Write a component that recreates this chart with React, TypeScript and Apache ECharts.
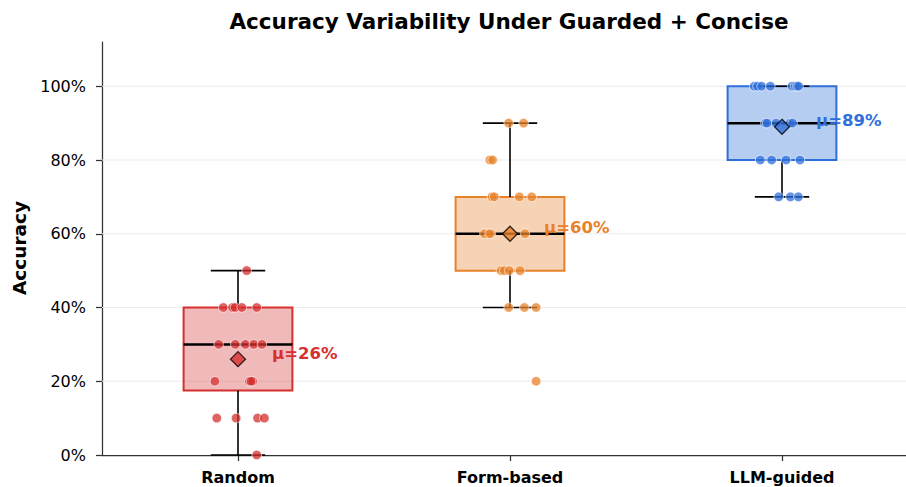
import { useEffect, useRef } from "react";
import * as echarts from "echarts";

const CATEGORIES = ["Random", "Form-based", "LLM-guided"];
const TITLE = "Accuracy Variability Under Guarded + Concise";
const Y_LABEL = "Accuracy";
const Y_TICKS = [0, 20, 40, 60, 80, 100];

const RANDOM_VALUES = [50, 40, 40, 40, 40, 40, 30, 30, 30, 30, 30, 20, 20, 20, 20, 10, 10, 10, 10, 0];
const RANDOM_JITTER = [0.032, -0.054, -0.02, -0.011, 0.014, 0.069, -0.071, -0.01, 0.027, 0.058, 0.088, -0.085, 0.042, 0.054, 0.048, -0.078, -0.007, 0.072, 0.097, 0.069];

const FORM_VALUES = [90, 90, 80, 80, 70, 70, 70, 70, 60, 60, 60, 60, 50, 50, 50, 50, 40, 40, 40, 20];
const FORM_JITTER = [-0.005, 0.05, -0.074, -0.064, -0.066, -0.058, 0.034, 0.08, -0.094, -0.07, -0.075, 0.055, -0.033, -0.021, -0.003, 0.037, -0.005, 0.053, 0.096, 0.096];

const LLM_VALUES = [100, 100, 100, 100, 100, 100, 100, 100, 90, 90, 90, 90, 90, 80, 80, 80, 80, 70, 70, 70];
const LLM_JITTER = [-0.102, -0.09, -0.075, -0.043, 0.037, 0.048, 0.055, 0.061, -0.061, -0.055, -0.022, 0.03, 0.039, -0.08, -0.038, 0.015, 0.066, -0.012, 0.031, 0.06];

const BOX_LOW = [0, 40, 70];
const BOX_Q1 = [17.5, 50, 80];
const BOX_MEDIAN = [30, 60, 90];
const BOX_Q3 = [40, 70, 100];
const BOX_HIGH = [50, 90, 100];

const GROUP_VALUES = [RANDOM_VALUES, FORM_VALUES, LLM_VALUES];
const GROUP_JITTER = [RANDOM_JITTER, FORM_JITTER, LLM_JITTER];

const COLORS = ["#D62F2F", "#E8822A", "#2F6FDB"];
const FILLS = ["rgba(214,47,47,0.33)", "rgba(232,130,42,0.35)", "rgba(47,111,219,0.35)"];
const FONT = "DejaVu Sans";

const BOX_WIDTH = 0.4;
const CAP_WIDTH = 0.2;

export default function App() {
  const ref = useRef<HTMLDivElement>(null);

  useEffect(() => {
    if (!ref.current) return;
    const chart = echarts.init(ref.current, null, { renderer: "svg" });

    const means = GROUP_VALUES.map((vals) => vals.reduce((a, b) => a + b, 0) / vals.length);

    const boxData = CATEGORIES.map((_, i) => [i, BOX_LOW[i], BOX_Q1[i], BOX_MEDIAN[i], BOX_Q3[i], BOX_HIGH[i]]);

    const pointSeries = GROUP_VALUES.map((vals, g) => ({
      type: "scatter",
      xAxisIndex: 1,
      yAxisIndex: 0,
      clip: false,
      z: 4,
      symbol: "circle",
      symbolSize: 9.5,
      itemStyle: { color: COLORS[g], opacity: 0.75, borderColor: "#ffffff", borderWidth: 0.8 },
      data: vals.map((v, i) => [g + GROUP_JITTER[g][i], v]),
    }));

    const option: any = {
      animation: false,
      grid: { left: 102, width: 816, top: 42, height: 413, outerBoundsMode: "none", containLabel: false },
      xAxis: [
        {
          type: "category",
          data: CATEGORIES,
          boundaryGap: true,
          axisLine: { show: true, onZero: false, lineStyle: { color: "#333333", width: 1.25 } },
          axisTick: { show: true, alignWithLabel: true, length: 6, lineStyle: { color: "#333333", width: 1.25 } },
          axisLabel: { color: "#000000", fontSize: 16, fontWeight: "bold", fontFamily: FONT, margin: 14 },
          splitLine: { show: false },
        },
        { type: "value", min: -0.5, max: 2.5, show: false },
      ],
      yAxis: {
        type: "value",
        min: 0,
        max: 112,
        interval: 20,
        axisLine: { show: true, onZero: false, lineStyle: { color: "#333333", width: 1.25 } },
        axisTick: { show: true, length: 6, lineStyle: { color: "#333333", width: 1.25 } },
        axisLabel: {
          color: "#000000",
          fontSize: 16,
          fontFamily: FONT,
          margin: 16,
          showMaxLabel: false,
          formatter: (v: number) => (Y_TICKS.includes(v) ? `${v}%` : ""),
        },
        splitLine: { show: false },
      },
      graphic: [
        {
          type: "text",
          x: 509,
          y: 21,
          style: { text: TITLE, align: "center", verticalAlign: "middle", fill: "#000", fontSize: 21.5, fontWeight: "bold", fontFamily: FONT },
        },
        {
          type: "text",
          x: 19,
          y: 248,
          rotation: Math.PI / 2,
          style: { text: Y_LABEL, align: "center", verticalAlign: "middle", fill: "#000", fontSize: 18.5, fontWeight: "bold", fontFamily: FONT },
        },
      ],
      series: [
        {
          type: "custom",
          xAxisIndex: 1,
          yAxisIndex: 0,
          z: 1,
          silent: true,
          data: Y_TICKS.filter((t) => t > 0).map((t) => [0, t]),
          renderItem: (params: any, api: any) => {
            const cs = params.coordSys;
            const y = api.coord([0, api.value(1)])[1];
            return {
              type: "line",
              shape: { x1: cs.x, y1: y, x2: cs.x + cs.width, y2: y },
              style: { stroke: "#ececec", lineWidth: 1.2 },
            };
          },
        },
        {
          type: "custom",
          xAxisIndex: 1,
          yAxisIndex: 0,
          z: 2,
          silent: true,
          data: boxData,
          renderItem: (params: any, api: any) => {
            const i = params.dataIndex;
            const c = api.value(0);
            const lo = api.value(1);
            const q1 = api.value(2);
            const med = api.value(3);
            const q3 = api.value(4);
            const hi = api.value(5);
            const tl = api.coord([c - BOX_WIDTH / 2, q3]);
            const br = api.coord([c + BOX_WIDTH / 2, q1]);
            const cx = api.coord([c, q1])[0];
            const yLo = api.coord([c, lo])[1];
            const yHi = api.coord([c, hi])[1];
            const yMed = api.coord([c, med])[1];
            const capL = api.coord([c - CAP_WIDTH / 2, lo])[0];
            const capR = api.coord([c + CAP_WIDTH / 2, lo])[0];
            const blk = { stroke: "#000", lineWidth: 1.6 };
            return {
              type: "group",
              children: [
                {
                  type: "rect",
                  shape: { x: tl[0], y: tl[1], width: br[0] - tl[0], height: br[1] - tl[1] },
                  style: { fill: FILLS[i], stroke: COLORS[i], lineWidth: 2 },
                },
                { type: "line", shape: { x1: cx, y1: br[1], x2: cx, y2: yLo }, style: blk },
                { type: "line", shape: { x1: cx, y1: tl[1], x2: cx, y2: yHi }, style: blk },
                { type: "line", shape: { x1: capL, y1: yLo, x2: capR, y2: yLo }, style: blk },
                { type: "line", shape: { x1: capL, y1: yHi, x2: capR, y2: yHi }, style: blk },
                { type: "line", shape: { x1: tl[0], y1: yMed, x2: br[0], y2: yMed }, style: { stroke: "#000", lineWidth: 2.5 } },
              ],
            };
          },
        },
        ...pointSeries,
        {
          type: "scatter",
          xAxisIndex: 1,
          yAxisIndex: 0,
          z: 5,
          clip: false,
          symbol: "diamond",
          symbolSize: 15,
          data: means.map((m, i) => ({ value: [i, m], itemStyle: { color: COLORS[i], borderColor: "#000", borderWidth: 1.3 } })),
        },
        {
          type: "custom",
          xAxisIndex: 1,
          yAxisIndex: 0,
          z: 6,
          silent: true,
          data: means.map((m, i) => [i, m]),
          renderItem: (params: any, api: any) => {
            const i = params.dataIndex;
            const p = api.coord([api.value(0) + 0.125, api.value(1)]);
            return {
              type: "text",
              x: p[0],
              y: p[1] - 6,
              style: {
                text: `μ=${Math.round(api.value(1))}%`,
                fill: COLORS[i],
                fontSize: 16.5,
                fontWeight: "bold",
                fontFamily: FONT,
                align: "left",
                verticalAlign: "middle",
              },
            };
          },
        },
      ],
    };

    chart.setOption(option);
    return () => chart.dispose();
  }, []);

  return <div ref={ref} style={{ position: "absolute", left: 0, top: 0, width: 906, height: 487 }} />;
}
